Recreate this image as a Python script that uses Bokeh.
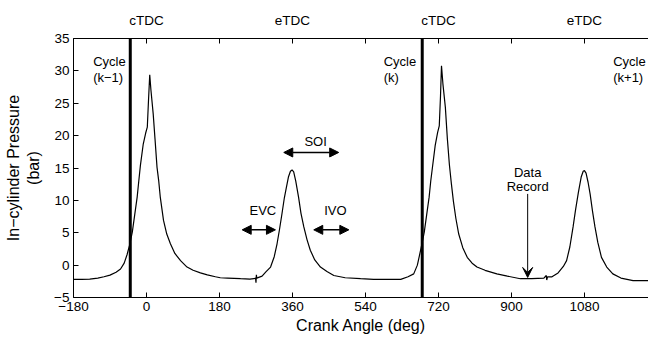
from bokeh.plotting import figure
from bokeh.models import (Range1d, LinearAxis, FixedTicker, Span, Label, Arrow,
                          NormalHead, VeeHead)
from bokeh.embed import file_html
from bokeh.resources import INLINE

# ---- data ----
crank_angle = [
    -180, -160, -140, -120, -105, -90, -75, -64, -55, -48, -42, -35, -29, -23,
    -19, -15, -8, -2, 2, 5, 8, 11, 16.5, 21, 26, 30, 34, 42, 50, 59, 70, 84,
    100, 115, 133, 150, 170, 182, 200, 232, 255, 265, 269, 270, 271, 272, 285,
    295, 306, 315, 322, 328, 334, 340, 345, 350, 355, 359, 363, 368, 375, 381,
    388, 396, 404, 415, 429, 445, 462, 490, 528, 560, 600, 627, 645, 659, 668,
    676, 680, 685, 691, 697, 701, 705, 712, 718, 722, 725, 727.5, 731, 737,
    742, 747, 752, 757, 763, 770, 780, 791, 803, 815, 835, 864, 890, 922, 950,
    980, 986, 987, 989, 1000, 1015, 1028, 1036, 1044, 1052, 1058, 1065, 1072,
    1077, 1080, 1084, 1089, 1094, 1100, 1106, 1113, 1122, 1135, 1150, 1170,
    1200, 1220, 1240]
pressure = [
    -2.2, -2.2, -2.15, -2.0, -1.8, -1.55, -1.1, -0.6, 0.3, 1.6, 3.0, 5.1, 7.8,
    10.5, 13.0, 15.4, 18.7, 20.4, 21.3, 25.5, 29.4, 27.0, 23.4, 19.5, 15.1,
    13.1, 10.5, 6.9, 4.8, 3.3, 1.8, 0.7, -0.3, -0.8, -1.2, -1.5, -1.8, -1.95,
    -2.0, -2.1, -2.15, -2.1, -2.0, -2.7, -1.5, -2.0, -1.7, -1.0, -0.3, 1.3, 3.3,
    5.5, 7.9, 10.4, 12.0, 13.6, 14.5, 14.7, 14.4, 13.0, 10.5, 8.0, 5.9, 3.9,
    2.3, 0.8, -0.3, -1.0, -1.6, -1.95, -2.1, -2.2, -2.2, -2.2, -1.8, -1.35, 0.0,
    2.3, 3.5, 5.1, 7.8, 10.5, 13.0, 15.0, 18.5, 20.5, 21.5, 26.0, 30.8, 28.0,
    24.4, 19.5, 15.5, 12.5, 9.8, 7.2, 4.8, 2.7, 1.2, 0.3, -0.3, -0.8, -1.35,
    -1.7, -2.1, -2.1, -2.0, -1.6, -2.3, -1.8, -1.8, -1.2, -0.2, 0.7, 2.8, 5.9,
    8.5, 11.2, 13.6, 14.5, 14.6, 14.2, 12.8, 11.0, 8.3, 5.9, 3.5, 1.2, -0.3,
    -1.35, -2.0, -2.4, -2.4, -2.4]

cycle_boundaries = [-40, 680]
cycle_labels = [("Cycle", "(k\u22121)", -131.5), ("Cycle", "(k)", 585), ("Cycle", "(k+1)", 1151)]
x_ticks = [-180, 0, 180, 360, 540, 720, 900, 1080]
top_tick_labels = {-180: "", 0: "cTDC", 180: "", 360: "eTDC", 540: "",
                   720: "cTDC", 900: "", 1080: "eTDC"}
y_ticks = [-5, 0, 5, 10, 15, 20, 25, 30, 35]

FONT = "Liberation Sans"

p = figure(width=648, height=337, output_backend="svg", toolbar_location=None,
           x_range=Range1d(-180, 1238), y_range=Range1d(-5, 35),
           min_border_left=73, min_border_right=0, min_border_top=38,
           min_border_bottom=40, x_axis_location=None, y_axis_location=None)
p.outline_line_color = None
p.grid.visible = False
p.background_fill_color = "white"
p.border_fill_color = "white"

def style_axis(ax, size="13.5px"):
    ax.major_tick_in = 5
    ax.major_tick_out = 0
    ax.minor_tick_in = 0
    ax.minor_tick_out = 0
    ax.axis_line_color = "black"
    ax.axis_line_width = 1
    ax.major_tick_line_color = "black"
    ax.major_label_text_font = FONT
    ax.major_label_text_font_size = size
    ax.major_label_text_color = "black"
    ax.axis_label_text_font = FONT
    ax.axis_label_text_font_style = "normal"
    ax.axis_label_text_font_size = "16px"
    ax.axis_label_text_color = "black"

xb = LinearAxis(ticker=FixedTicker(ticks=x_ticks), axis_label="Crank Angle (deg)")
xb.major_label_overrides = {t: (str(t).replace("-", "\u2212")) for t in x_ticks}
style_axis(xb)
xb.major_label_standoff = 4
xb.axis_label_standoff = 3
p.add_layout(xb, "below")

xt = LinearAxis(ticker=FixedTicker(ticks=x_ticks))
xt.major_label_overrides = top_tick_labels
style_axis(xt)
xt.major_label_standoff = 11
p.add_layout(xt, "above")

yl = LinearAxis(ticker=FixedTicker(ticks=y_ticks),
                axis_label="In\u2212cylinder Pressure\n(bar)")
yl.major_label_overrides = {t: (str(t).replace("-", "\u2212")) for t in y_ticks}
style_axis(yl)
yl.major_label_standoff = 4
yl.axis_label_standoff = 9
p.add_layout(yl, "left")

p.line(crank_angle, pressure, line_color="black", line_width=1.2)

for xb_ in cycle_boundaries:
    p.add_layout(Span(location=xb_, dimension="height", line_color="black",
                      line_width=3))

for top, bottom, xpos in cycle_labels:
    p.add_layout(Label(x=xpos, y=31.4, text=top, text_font=FONT,
                       text_font_size="13px", text_baseline="middle",
                       text_align="left", text_color="black"))
    p.add_layout(Label(x=xpos, y=29.0, text=bottom, text_font=FONT,
                       text_font_size="13px", text_baseline="middle",
                       text_align="left", text_color="black"))

def dbl_arrow(x0, x1, y):
    p.add_layout(Arrow(x_start=x0, x_end=x1, y_start=y, y_end=y,
                       line_color="black", line_width=1.5,
                       start=NormalHead(size=9, fill_color="black", line_color="black"),
                       end=NormalHead(size=9, fill_color="black", line_color="black")))

def note(x, y, t):
    p.add_layout(Label(x=x, y=y, text=t, text_font=FONT, text_font_size="13px",
                       text_align="center", text_baseline="middle",
                       text_color="black"))

dbl_arrow(338.5, 474, 17.4)
note(417, 19.1, "SOI")
dbl_arrow(236, 318, 5.45)
note(287, 8.4, "EVC")
dbl_arrow(412.5, 499, 5.45)
note(466, 8.4, "IVO")

p.add_layout(Arrow(x_start=940, x_end=940, y_start=11.0, y_end=-1.9,
                   line_color="black", line_width=1,
                   end=VeeHead(size=10, fill_color="black", line_color="black")))
note(940, 14.35, "Data")
note(940, 12.1, "Record")

open("out.html", "w").write(file_html(p, INLINE))
